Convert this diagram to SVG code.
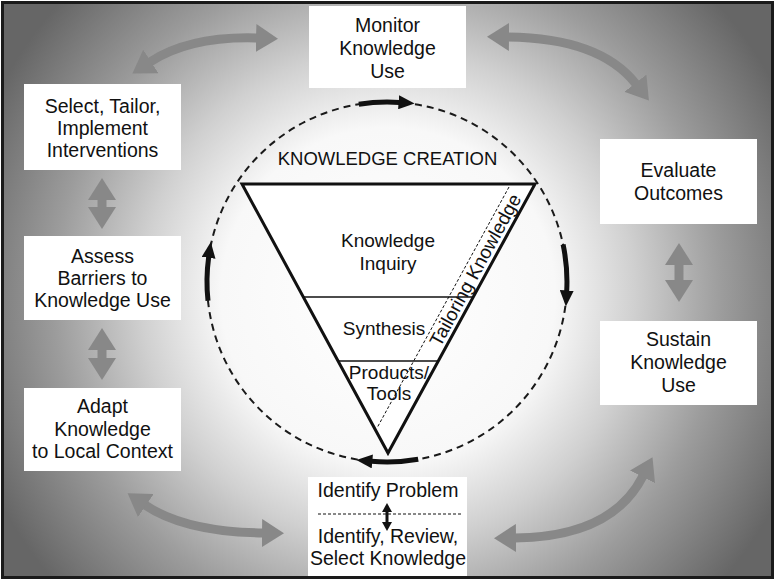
<svg xmlns="http://www.w3.org/2000/svg" width="777" height="582" viewBox="0 0 777 582">
<defs>
<radialGradient id="bg" gradientUnits="userSpaceOnUse" cx="388" cy="295" r="440">
<stop offset="0" stop-color="#ffffff"/>
<stop offset="0.38" stop-color="#f8f8f8"/>
<stop offset="0.56" stop-color="#d0d0d0"/>
<stop offset="0.76" stop-color="#9c9c9c"/>
<stop offset="1" stop-color="#666666"/>
</radialGradient>
<marker id="gh" markerUnits="userSpaceOnUse" markerWidth="22" markerHeight="28" viewBox="0 0 22 28" refX="1" refY="14" orient="auto-start-reverse"><path d="M0,0 L22,14 L0,28 z" fill="#888"/></marker>
<marker id="bh" markerUnits="userSpaceOnUse" markerWidth="16" markerHeight="14" viewBox="0 0 16 14" refX="1" refY="7" orient="auto"><path d="M0,0 L16,7 L0,14 z" fill="#111"/></marker>
<marker id="sh" markerUnits="userSpaceOnUse" markerWidth="9" markerHeight="10" viewBox="0 0 9 10" refX="1" refY="5" orient="auto-start-reverse"><path d="M0,0 L9,5 L0,10 z" fill="#111"/></marker>
</defs>
<style>
.box{fill:#fff;stroke:none}
.t{font-family:"Liberation Sans",Arial,sans-serif;font-size:19.5px;fill:#111;text-anchor:middle}
.tt{font-family:"Liberation Sans",Arial,sans-serif;font-size:19px;fill:#111;text-anchor:middle}
.g{fill:none;stroke:#888;stroke-width:9;marker-start:url(#gh);marker-end:url(#gh)}
.b{fill:none;stroke:#111;stroke-width:5;marker-end:url(#bh)}
</style>
<rect x="0" y="0" width="777" height="582" fill="#fff"/>
<rect x="2.5" y="2.5" width="770" height="575" fill="url(#bg)" stroke="#1a1a1a" stroke-width="3"/>

<g id="connectors">
<path class="g" d="M150,62 Q190,36 257,38"/>
<path class="g" d="M508,37 Q600,38 636,84"/>
<path class="g" d="M145,505 Q185,532 263,533"/>
<path class="g" d="M515,538 Q612,537 643,476"/>
<path class="g" d="M102,199 L102,208"/>
<path class="g" d="M102,349 L102,359"/>
<path class="g" d="M679,264 L679,281"/>
</g>

<g id="cycle">
<circle cx="387" cy="282" r="180" fill="none" stroke="#1a1a1a" stroke-width="2" stroke-dasharray="7 5"/>
<path class="b" d="M358.8,104.2 A180,180 0 0 1 399.6,102.4"/>
<path class="b" d="M563.1,244.6 A180,180 0 0 1 566.7,291.4"/>
<path class="b" d="M418.2,459.3 A180,180 0 0 1 371.3,461.3"/>
<path class="b" d="M208,300.8 A180,180 0 0 1 208.7,256.9"/>
</g>

<g id="knowledge-creation">
<text class="tt" x="387.5" y="165" style="font-size:18.5px">KNOWLEDGE CREATION</text>
<polygon points="242,184 535,184 388,453" fill="#fff" stroke="#111" stroke-width="3"/>
<line x1="303.3" y1="297" x2="473.2" y2="297" stroke="#111" stroke-width="1.5"/>
<line x1="338.1" y1="361" x2="438.3" y2="361" stroke="#111" stroke-width="1.5"/>
<line x1="509" y1="187" x2="377" y2="428" stroke="#111" stroke-width="1" stroke-dasharray="3 2"/>
<text class="tt" x="388" y="247">Knowledge</text>
<text class="tt" x="388" y="270">Inquiry</text>
<text class="tt" x="384" y="335">Synthesis</text>
<text class="tt" x="389" y="379">Products/</text>
<text class="tt" x="389" y="400">Tools</text>
<text class="tt" x="481" y="273" transform="rotate(-61.4 481 273)">Tailoring Knowledge</text>
</g>

<g id="monitor">
<rect class="box" x="309" y="6" width="157" height="82"/>
<text class="t" x="387.5" y="32">Monitor</text>
<text class="t" x="387.5" y="55">Knowledge</text>
<text class="t" x="387.5" y="78">Use</text>
</g>
<g id="select">
<rect class="box" x="24" y="84" width="157" height="86"/>
<text class="t" x="102.5" y="113">Select, Tailor,</text>
<text class="t" x="102.5" y="135">Implement</text>
<text class="t" x="102.5" y="157">Interventions</text>
</g>
<g id="assess">
<rect class="box" x="24" y="236" width="157" height="84"/>
<text class="t" x="102.5" y="263">Assess</text>
<text class="t" x="102.5" y="285">Barriers to</text>
<text class="t" x="102.5" y="307">Knowledge Use</text>
</g>
<g id="adapt">
<rect class="box" x="24" y="388" width="157" height="83"/>
<text class="t" x="102.5" y="413">Adapt</text>
<text class="t" x="102.5" y="436">Knowledge</text>
<text class="t" x="102.5" y="458">to Local Context</text>
</g>
<g id="evaluate">
<rect class="box" x="600" y="139" width="157" height="85"/>
<text class="t" x="678.5" y="177">Evaluate</text>
<text class="t" x="678.5" y="200">Outcomes</text>
</g>
<g id="sustain">
<rect class="box" x="600" y="321" width="157" height="84"/>
<text class="t" x="678.5" y="346">Sustain</text>
<text class="t" x="678.5" y="369">Knowledge</text>
<text class="t" x="678.5" y="392">Use</text>
</g>
<g id="identify">
<rect class="box" x="308" y="477" width="159" height="99"/>
<text class="t" x="388" y="497">Identify Problem</text>
<line x1="318" y1="514" x2="462" y2="514" stroke="#111" stroke-width="1" stroke-dasharray="3 2"/>
<path d="M387,511 L387,523" stroke="#111" stroke-width="3" marker-start="url(#sh)" marker-end="url(#sh)"/>
<text class="t" x="388" y="543">Identify, Review,</text>
<text class="t" x="388" y="565">Select Knowledge</text>
</g>
</svg>
